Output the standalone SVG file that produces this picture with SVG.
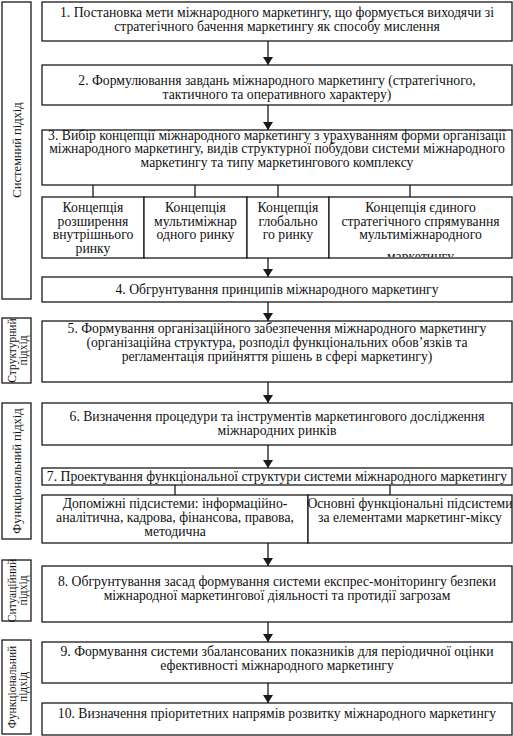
<svg xmlns="http://www.w3.org/2000/svg" width="513" height="736" viewBox="0 0 513 736">
<style>
.b{fill:#fff;stroke:#1a1a1a;stroke-width:1.3}
.t{font-family:"Liberation Serif","Times New Roman",serif;font-size:13.7px;fill:#111;text-anchor:middle}
.l{font-family:"Liberation Serif","Times New Roman",serif;font-size:12.5px;fill:#111;text-anchor:middle}
.s{font-size:11.5px}
.c{stroke:#1a1a1a;stroke-width:1.3;fill:none}
</style>
<defs>
<marker id="ar" viewBox="0 0 8 10" refX="8" refY="5" markerWidth="8" markerHeight="10" markerUnits="userSpaceOnUse" orient="auto">
<path d="M0,0 L8,5 L0,10 Z" fill="#1a1a1a"/>
</marker>
<clipPath id="clipS4"><rect x="329" y="197" width="183" height="60"/></clipPath>
</defs>
<rect width="513" height="736" fill="#fff"/>
<g id="approaches">
<g id="lab1"><rect class="b" x="2" y="2" width="29" height="297"/><text class="l" transform="translate(20.5,150) rotate(-90)">Системний підхід</text></g>
<g id="lab2"><rect class="b" x="2" y="318" width="29" height="65"/><text class="l s" transform="translate(15.5,350.5) rotate(-90)">Структурний</text><text class="l s" transform="translate(27,350.5) rotate(-90)">підхід</text></g>
<g id="lab3"><rect class="b" x="2" y="403" width="29" height="136"/><text class="l" transform="translate(20.5,471) rotate(-90)">Функціональний  підхід</text></g>
<g id="lab4"><rect class="b" x="2" y="560" width="29" height="61"/><text class="l s" transform="translate(15.5,590.5) rotate(-90)">Ситуаційний</text><text class="l s" transform="translate(27,590.5) rotate(-90)">підхід</text></g>
<g id="lab5"><rect class="b" x="2" y="640" width="29" height="94"/><text class="l s" transform="translate(15.5,687) rotate(-90)">Функціональний</text><text class="l s" transform="translate(27,687) rotate(-90)">підхід</text></g>
</g>
<g id="connectors">
<line class="c" x1="268" y1="41" x2="268" y2="65" marker-end="url(#ar)"/>
<line class="c" x1="268" y1="105" x2="268" y2="130" marker-end="url(#ar)"/>
<line class="c" x1="268" y1="258" x2="268" y2="277" marker-end="url(#ar)"/>
<line class="c" x1="268" y1="302" x2="268" y2="321" marker-end="url(#ar)"/>
<line class="c" x1="268" y1="382" x2="268" y2="403" marker-end="url(#ar)"/>
<line class="c" x1="268" y1="445" x2="268" y2="468" marker-end="url(#ar)"/>
<line class="c" x1="268" y1="543" x2="268" y2="566" marker-end="url(#ar)"/>
<line class="c" x1="268" y1="622" x2="268" y2="642" marker-end="url(#ar)"/>
<line class="c" x1="268" y1="683" x2="268" y2="703" marker-end="url(#ar)"/>
<line class="c" x1="93" y1="185" x2="93" y2="197"/>
<line class="c" x1="195" y1="185" x2="195" y2="197"/>
<line class="c" x1="278" y1="185" x2="278" y2="197"/>
<line class="c" x1="410" y1="185" x2="410" y2="197"/>
<line class="c" x1="175" y1="485" x2="175" y2="495"/>
<line class="c" x1="390" y1="485" x2="390" y2="495"/>
</g>
<g id="n1"><rect class="b" x="42" y="2" width="470" height="39"/>
<text class="t" x="277" y="16.5">1. Постановка мети міжнародного маркетингу, що формується виходячи зі</text>
<text class="t" x="277" y="30.5">стратегічного бачення маркетингу  як способу мислення</text></g>
<g id="n2"><rect class="b" x="42" y="65" width="470" height="40"/>
<text class="t" x="277" y="85">2. Формулювання завдань міжнародного маркетингу (стратегічного,</text>
<text class="t" x="277" y="98.5">тактичного та оперативного характеру)</text></g>
<g id="n3"><rect class="b" x="42" y="130" width="470" height="55"/>
<text class="t" x="277" y="139.5">3. Вибір  концепції міжнародного маркетингу з урахуванням форми організації</text>
<text class="t" x="277" y="153">міжнародного маркетингу, видів структурної побудови системи міжнародного</text>
<text class="t" x="277" y="166.5">маркетингу та типу маркетингового комплексу</text></g>
<g id="s1"><rect class="b" x="42" y="197" width="102" height="61"/>
<text class="t" x="93" y="212">Концепція</text><text class="t" x="93" y="225.5">розширення</text><text class="t" x="93" y="239">внутрішнього</text><text class="t" x="93" y="252.5">ринку</text></g>
<g id="s2"><rect class="b" x="144" y="197" width="103" height="61"/>
<text class="t" x="195.5" y="212">Концепція</text><text class="t" x="195.5" y="225.5">мультиміжнар</text><text class="t" x="195.5" y="239">одного ринку</text></g>
<g id="s3"><rect class="b" x="247" y="197" width="82" height="61"/>
<text class="t" x="288" y="212">Концепція</text><text class="t" x="288" y="225.5">глобально</text><text class="t" x="288" y="239">го ринку</text></g>
<g id="s4"><rect class="b" x="329" y="197" width="183" height="61"/>
<text class="t" x="420.5" y="212">Концепція єдиного</text><text class="t" x="420.5" y="225.5">стратегічного спрямування</text><text class="t" x="420.5" y="239">мультиміжнародного</text><text class="t" x="420.5" y="261" clip-path="url(#clipS4)">маркетингу</text></g>
<g id="n4"><rect class="b" x="42" y="277" width="470" height="25"/>
<text class="t" x="277" y="294">4. Обгрунтування принципів  міжнародного маркетингу</text></g>
<g id="n5"><rect class="b" x="42" y="321" width="470" height="61"/>
<text class="t" x="277" y="333">5. Формування організаційного забезпечення міжнародного маркетингу</text>
<text class="t" x="277" y="347">(організаційна структура, розподіл функціональних обов’язків та</text>
<text class="t" x="277" y="361">регламентація прийняття рішень в сфері маркетингу)</text></g>
<g id="n6"><rect class="b" x="42" y="403" width="470" height="42"/>
<text class="t" x="277" y="421">6. Визначення процедури та інструментів маркетингового дослідження</text>
<text class="t" x="277" y="435">міжнародних ринків</text></g>
<g id="n7"><rect class="b" x="42" y="468" width="470" height="17"/>
<text class="t" x="277" y="481">7. Проектування функціональної структури системи міжнародного маркетингу</text></g>
<g id="s5"><rect class="b" x="42" y="495" width="266" height="48"/>
<text class="t" x="175" y="508">Допоміжні підсистеми: інформаційно-</text>
<text class="t" x="175" y="522">аналітична, кадрова, фінансова, правова,</text>
<text class="t" x="175" y="536">методична</text></g>
<g id="s6"><rect class="b" x="308" y="495" width="204" height="48"/>
<text class="t" x="410" y="508">Основні функціональні підсистеми</text>
<text class="t" x="410" y="522">за елементами маркетинг-міксу</text></g>
<g id="n8"><rect class="b" x="42" y="566" width="470" height="56"/>
<text class="t" x="277" y="586">8. Обгрунтування засад формування системи експрес-моніторингу безпеки</text>
<text class="t" x="277" y="600">міжнародної маркетингової діяльності та протидії загрозам</text></g>
<g id="n9"><rect class="b" x="42" y="642" width="470" height="41"/>
<text class="t" x="277" y="656">9. Формування системи збалансованих показників для періодичної оцінки</text>
<text class="t" x="277" y="670">ефективності міжнародного маркетингу</text></g>
<g id="n10"><rect class="b" x="42" y="703" width="470" height="32"/>
<text class="t" x="277" y="718">10. Визначення пріоритетних напрямів розвитку міжнародного маркетингу</text></g>
</svg>
